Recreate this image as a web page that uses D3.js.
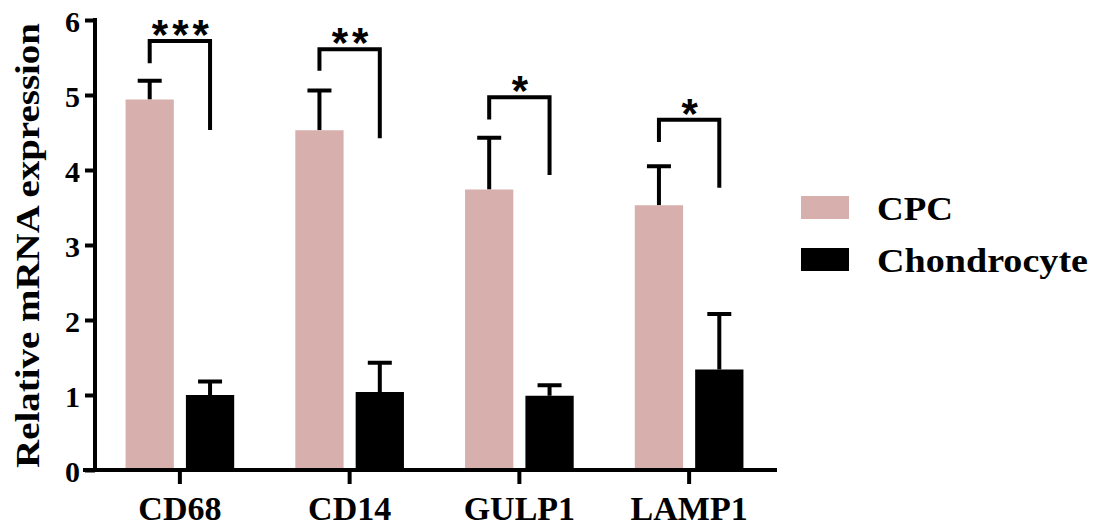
<!DOCTYPE html>
<html>
<head>
<meta charset="utf-8">
<script src="https://cdn.jsdelivr.net/npm/d3@7"></script>
<style>
  html, body { margin: 0; padding: 0; background: #fff; }
  svg { display: block; }
  text { font-family: "Liberation Serif", "Times New Roman", serif; font-weight: bold; fill: #000; }
</style>
</head>
<body>
<svg id="chart" width="1101" height="529"></svg>
<script>
// ---- data ----
const categories = ["CD68", "CD14", "GULP1", "LAMP1"];
const seriesNames = ["CPC", "Chondrocyte"];
const cpcMean = [4.94, 4.53, 3.74, 3.53];
const cpcErr = [0.25, 0.53, 0.69, 0.52];
const chondroMean = [1.00, 1.04, 0.99, 1.34];
const chondroErr = [0.18, 0.39, 0.14, 0.74];
const yTicks = [0, 1, 2, 3, 4, 5, 6];
const sigLabels = ["***", "**", "*", "*"];
const bracketTop = [5.72, 5.61, 4.97, 4.67];
const bracketLeftEnd = [5.45, 5.35, 4.70, 4.40];
const bracketRightEnd = [4.56, 4.45, 3.96, 3.79];
const colors = ["#d7b0ae", "#000000"];

const svg = d3.select("#chart");

const x0 = d3.scaleBand().domain(categories).range([95, 774]).padding(0);
const bw0 = x0.bandwidth();
const x1 = d3.scaleBand().domain(seriesNames).range([bw0 * 0.18, bw0 * 0.82]).paddingInner(0.2).paddingOuter(0);
const y = d3.scaleLinear().domain([0, 6]).range([470, 20]);
const color = d3.scaleOrdinal().domain(seriesNames).range(colors);

const rows = [];
categories.forEach((c, i) => {
  rows.push({ cat: c, s: "CPC", v: cpcMean[i], e: cpcErr[i] });
  rows.push({ cat: c, s: "Chondrocyte", v: chondroMean[i], e: chondroErr[i] });
});

// error bars (behind bars)
const eb = svg.append("g").attr("stroke", "#000").attr("stroke-width", 4);
rows.forEach(d => {
  const cx = x0(d.cat) + x1(d.s) + x1.bandwidth() / 2;
  eb.append("line").attr("x1", cx).attr("x2", cx).attr("y1", y(d.v)).attr("y2", y(d.v + d.e));
  eb.append("line").attr("x1", cx - 12).attr("x2", cx + 12).attr("y1", y(d.v + d.e)).attr("y2", y(d.v + d.e));
});

// bars
svg.append("g").selectAll("rect").data(rows).join("rect")
  .attr("x", d => x0(d.cat) + x1(d.s))
  .attr("width", x1.bandwidth())
  .attr("y", d => y(d.v))
  .attr("height", d => y(0) - y(d.v))
  .attr("fill", d => color(d.s));

// y axis
const yAxis = svg.append("g").attr("transform", "translate(95,0)")
  .call(d3.axisLeft(y).tickValues(yTicks).tickFormat(d3.format("d")).tickSize(10).tickPadding(5));
yAxis.select(".domain").attr("stroke-width", 4).attr("d", `M0,${y(6) - 2}V${y(0)}`);
yAxis.selectAll(".tick line").attr("stroke-width", 4);
yAxis.selectAll(".tick text").attr("font-size", 30).attr("dy", "0.38em")
  .style("font-family", '"Liberation Serif", "Times New Roman", serif').style("font-weight", "bold");

// x axis
const xAxis = svg.append("g").attr("transform", `translate(0,${y(0)})`)
  .call(d3.axisBottom(x0).tickSize(14).tickPadding(30));
xAxis.select(".domain").attr("stroke-width", 4).attr("d", `M83,0H777`);
xAxis.selectAll(".tick line").attr("stroke-width", 4);
xAxis.selectAll(".tick text").attr("font-size", 34).attr("dy", 0).attr("y", 50)
  .style("font-family", '"Liberation Serif", "Times New Roman", serif').style("font-weight", "bold");

// y title
svg.append("text")
  .attr("transform", "translate(38.5,245.5) rotate(-90)")
  .attr("text-anchor", "middle")
  .attr("font-size", 34)
  .attr("textLength", 445)
  .attr("lengthAdjust", "spacingAndGlyphs")
  .text("Relative mRNA expression");

// significance brackets
const br = svg.append("g");
categories.forEach((c, i) => {
  const xl = x0(c) + x1("CPC") + x1.bandwidth() / 2;
  const xr = x0(c) + x1("Chondrocyte") + x1.bandwidth() / 2;
  br.append("path")
    .attr("d", `M${xl},${y(bracketLeftEnd[i])}V${y(bracketTop[i])}H${xr}V${y(bracketRightEnd[i])}`)
    .attr("fill", "none").attr("stroke", "#000").attr("stroke-width", 4)
    .attr("stroke-linejoin", "miter").attr("stroke-linecap", "square");
  br.append("text")
    .attr("x", (xl + xr) / 2 + 2.5)
    .attr("y", y(bracketTop[i]) + 8)
    .attr("text-anchor", "middle")
    .attr("font-size", 42)
    .style("font-family", '"Liberation Sans", Arial, sans-serif')
    .style("font-weight", "bold")
    .style("letter-spacing", "4px")
    .text(sigLabels[i]);
});

// legend
const legendY = [196, 248];
const lg = svg.append("g");
seriesNames.forEach((s, i) => {
  lg.append("rect").attr("x", 801).attr("y", legendY[i]).attr("width", 48).attr("height", 23).attr("fill", color(s));
  lg.append("text").attr("x", 877).attr("y", legendY[i] + 24)
    .attr("font-size", 33)
    .attr("textLength", i === 0 ? 76 : 211)
    .attr("lengthAdjust", "spacingAndGlyphs")
    .text(s);
});
</script>
</body>
</html>
